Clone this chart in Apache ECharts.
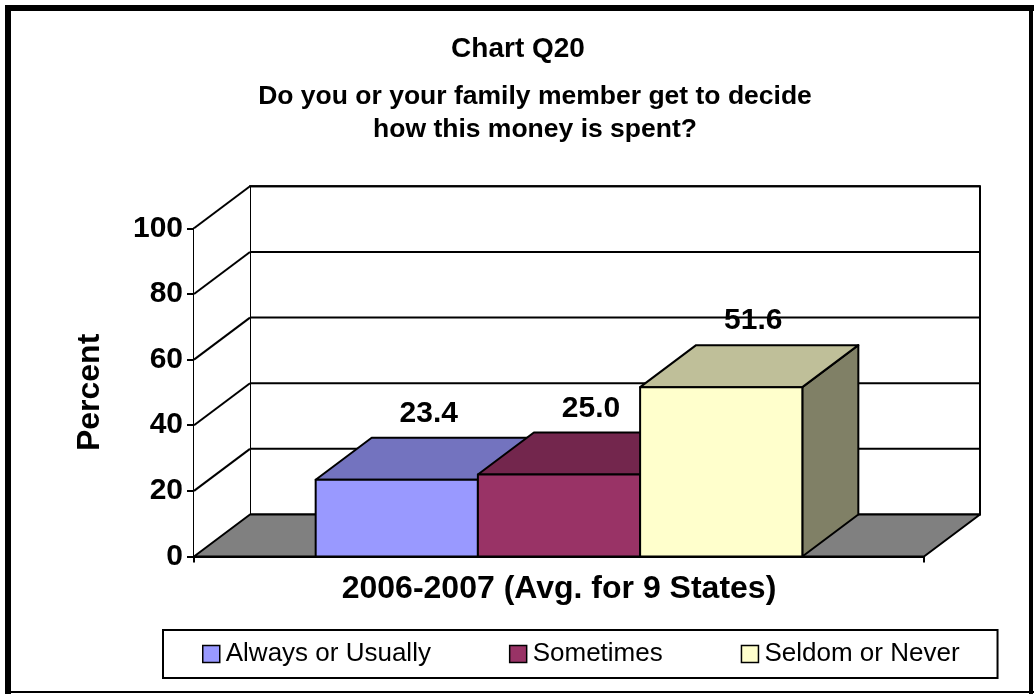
<!DOCTYPE html>
<html>
<head>
<meta charset="utf-8">
<title>Chart Q20</title>
<script src="https://cdn.jsdelivr.net/npm/echarts@6/dist/echarts.min.js"></script>
<style>
  html, body { margin: 0; padding: 0; background: #fff; }
  #chart { width: 1036px; height: 694px; }
</style>
</head>
<body>
<div id="chart"></div>
<script>
// ---- data ----
const categories = ['2006-2007 (Avg. for 9 States)'];
const seriesNames = ['Always or Usually', 'Sometimes', 'Seldom or Never'];
const seriesValues = [23.4, 25.0, 51.6];
const yTicks = [0, 20, 40, 60, 80, 100];

// ---- styling ----
const FONT = '"Liberation Sans", Arial, sans-serif';
const frontColors = ['#9999FF', '#993366', '#FFFFCC'];
const topColors   = ['#7373BF', '#73264D', '#BFBF99'];
const sideColors  = ['#4D4D80', '#4D1A33', '#808066'];
const DX = 56, DY = -42;          // depth offset of the 3D box
const LINE = { stroke: '#000', lineWidth: 2 };

const chart = echarts.init(document.getElementById('chart'), null, { renderer: 'canvas' });

// back wall, side wall, gridlines and floor
function renderWalls(params, api) {
  const cs = params.coordSys;
  const x = cs.x, w = cs.width;
  const yBottom = api.coord([0, yTicks[0]])[1];
  const yTop = api.coord([0, yTicks[yTicks.length - 1]])[1];
  const children = [];
  children.push({
    type: 'rect',
    shape: { x: x + DX, y: yTop + DY, width: w, height: yBottom - yTop },
    style: { fill: '#fff', stroke: '#000', lineWidth: 2 }
  });
  children.push({
    type: 'polygon',
    shape: { points: [[x, yBottom], [x + DX, yBottom + DY], [x + DX, yTop + DY], [x, yTop]] },
    style: { fill: '#fff', stroke: null }
  });
  yTicks.forEach(function (v) {
    const yy = api.coord([0, v])[1];
    if (v !== yTicks[0]) {
      children.push({ type: 'line', shape: { x1: x + DX, y1: yy + DY, x2: x + w + DX, y2: yy + DY }, style: LINE });
      children.push({ type: 'line', shape: { x1: x, y1: yy, x2: x + DX, y2: yy + DY }, style: LINE });
    }
  });
  children.push({
    type: 'polygon',
    shape: { points: [[x, yBottom], [x + w, yBottom], [x + w + DX, yBottom + DY], [x + DX, yBottom + DY]] },
    style: { fill: '#808080', stroke: '#000', lineWidth: 2, lineJoin: 'round' }
  });
  return { type: 'group', children: children };
}

// one 3D box per series, placed side by side inside the category band
function makeBarRenderer(idx) {
  return function (params, api) {
    const cat = api.value(0);
    const val = api.value(1);
    const base = api.coord([cat, 0]);
    const top = api.coord([cat, val]);
    const band = api.size([1, 0])[0];
    const bw = band / 4.5;
    const x0 = base[0] - 1.5 * bw + idx * bw;
    const x1 = x0 + bw;
    const y0 = base[1], y1 = top[1];
    const stroke = { stroke: '#000', lineWidth: 2, lineJoin: 'round' };
    return {
      type: 'group',
      children: [
        { type: 'polygon',
          shape: { points: [[x1, y1], [x1 + DX, y1 + DY], [x1 + DX, y0 + DY], [x1, y0]] },
          style: Object.assign({ fill: sideColors[idx] }, stroke) },
        { type: 'polygon',
          shape: { points: [[x0, y1], [x0 + DX, y1 + DY], [x1 + DX, y1 + DY], [x1, y1]] },
          style: Object.assign({ fill: topColors[idx] }, stroke) },
        { type: 'rect',
          shape: { x: x0, y: y1, width: bw, height: y0 - y1 },
          style: Object.assign({ fill: frontColors[idx] }, stroke) },
        { type: 'text',
          x: (x0 + x1) / 2 + 32, y: y1 + DY - 24,
          style: { text: val.toFixed(1), fill: '#000', font: 'bold 30px ' + FONT,
                   textAlign: 'center', textVerticalAlign: 'middle' } }
      ]
    };
  };
}

const series = [{
  type: 'custom',
  name: '_walls',
  coordinateSystem: 'cartesian2d',
  renderItem: renderWalls,
  data: [[0, 0]],
  clip: false,
  silent: true,
  z: 1
}];
seriesNames.forEach(function (name, i) {
  series.push({
    type: 'custom',
    name: name,
    coordinateSystem: 'cartesian2d',
    renderItem: makeBarRenderer(i),
    itemStyle: { color: frontColors[i] },
    encode: { x: 0, y: 1 },
    data: [[0, seriesValues[i]]],
    clip: false,
    z: 2 + i
  });
});

chart.setOption({
  animation: false,
  backgroundColor: '#fff',
  title: [{
    left: 'center',
    top: 30,
    text: 'Chart Q20',
    textStyle: { fontFamily: FONT, fontWeight: 'bold', fontSize: 28, color: '#000' }
  }, {
    left: 530,
    textAlign: 'center',
    top: 75,
    text: 'Do you or your family member get to decide\nhow this money is spent?',
    textStyle: { fontFamily: FONT, fontWeight: 'bold', fontSize: 26.5, lineHeight: 33, color: '#000' }
  }],
  legend: {
    data: seriesNames,
    left: 163,
    top: 630,
    orient: 'horizontal',
    icon: 'rect',
    itemWidth: 17,
    itemHeight: 17,
    itemGap: 78,
    padding: [11, 38, 11, 39],
    borderColor: '#000',
    borderWidth: 2,
    itemStyle: { borderColor: '#000', borderWidth: 1.5 },
    textStyle: { fontFamily: FONT, fontSize: 26, color: '#000', padding: [0, 0, 0, 1] },
    selectedMode: false
  },
  grid: { left: 194, right: 112, top: 228.3, bottom: 137.5, containLabel: false },
  xAxis: {
    type: 'category',
    data: categories,
    boundaryGap: true,
    axisLine: { show: true, lineStyle: { color: '#000', width: 2 } },
    axisTick: { show: true, length: 6, lineStyle: { color: '#000', width: 2 } },
    axisLabel: { margin: 17, fontFamily: FONT, fontWeight: 'bold', fontSize: 32, color: '#000' },
    splitLine: { show: false }
  },
  yAxis: {
    type: 'value',
    min: 0,
    max: 100,
    interval: 20,
    name: 'Percent',
    nameLocation: 'middle',
    nameRotate: 90,
    nameGap: 88,
    nameTextStyle: { fontFamily: FONT, fontWeight: 'bold', fontSize: 32, color: '#000' },
    axisLine: { show: true, lineStyle: { color: '#000', width: 2 } },
    axisTick: { show: true, length: 7, lineStyle: { color: '#000', width: 2 } },
    axisLabel: { margin: 11, fontFamily: FONT, fontWeight: 'bold', fontSize: 30, color: '#000' },
    splitLine: { show: false }
  },
  graphic: [
    { type: 'rect', shape: { x: 5, y: 5, width: 1029, height: 6 }, style: { fill: '#000' }, z: 100 },
    { type: 'rect', shape: { x: 5, y: 5, width: 6, height: 689 }, style: { fill: '#000' }, z: 100 },
    { type: 'rect', shape: { x: 1029, y: 5, width: 4, height: 689 }, style: { fill: '#000' }, z: 100 },
    { type: 'rect', shape: { x: 5, y: 691, width: 1029, height: 2 }, style: { fill: '#000' }, z: 100 }
  ],
  series: series
});
</script>
</body>
</html>
